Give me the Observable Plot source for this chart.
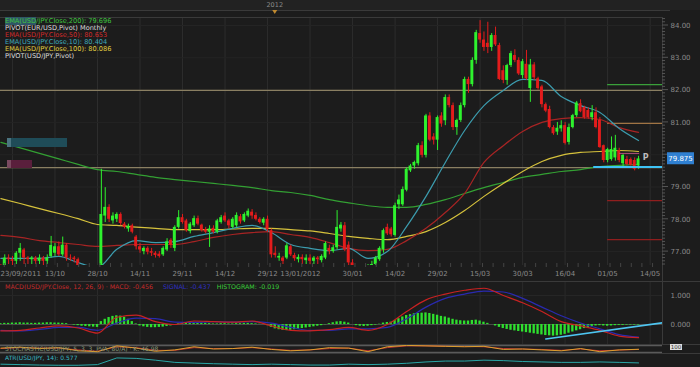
<!DOCTYPE html>
<html><head><meta charset="utf-8">
<script src="https://cdn.jsdelivr.net/npm/d3@7"></script>
<script src="https://cdn.jsdelivr.net/npm/@observablehq/plot@0.6"></script>
<style>
html,body{margin:0;padding:0;background:#1c1c1c;overflow:hidden}
#wrap{position:relative;width:700px;height:367px;background:#1c1c1c;font-family:"DejaVu Sans",sans-serif;overflow:hidden}
.lg{position:absolute;white-space:nowrap;font-size:6.6px;line-height:7px;font-family:"DejaVu Sans",sans-serif}
</style></head><body><div id="wrap"></div>
<script>
// ---------- DATA ----------
const firstIndex = -25; // trading-day index of the first candle (0 = 28/10/2011)
const open = [
 76.5,76.4,76.8,76.75,76.7,76.95,77.05,76.8,76.75,76.8,
 76.7,76.8,76.7,76.85,76.95,77.15,76.9,77.2,76.8,76.8,
 76.75,76.2,76.1,76.0,76.2,75.8,75.8,78.1,78.37,77.95,
 78.0,78.15,77.85,77.7,77.8,77.45,77.15,77.0,77.1,77.0,
 76.95,76.92,76.9,77.05,77.35,77.1,77.75,78.05,77.95,77.62,
 77.8,78.02,77.82,77.68,77.6,77.72,77.6,77.9,78.1,77.95,
 77.75,77.8,78.08,77.95,78.1,78.22,78.12,78.0,77.88,78.0,
 77.65,76.95,76.8,76.8,76.8,77.15,76.88,76.75,76.82,76.72,
 76.8,76.7,76.8,76.72,76.8,77.1,77.0,77.12,77.7,77.8,
 77.2,76.65,76.3,76.2,76.15,76.2,76.5,76.6,76.75,77.05,
 77.75,77.7,77.5,78.45,78.45,78.9,79.5,79.65,79.72,80.28,
 79.98,81.2,80.55,80.45,81.2,81.05,81.77,81.52,80.84,81.06,
 81.52,82.33,82.17,82.92,83.75,83.55,83.45,83.32,83.69,83.38,
 82.6,82.3,82.76,83.07,82.92,82.45,82.8,82.05,82.78,82.35,
 82.1,81.55,81.4,80.84,80.7,80.8,80.9,80.38,80.84,81.21,
 81.58,81.46,81.37,81.15,81.3,81.06,80.28,79.82,79.85,79.9,
 80.13,79.72,79.85,79.85,79.82,79.65];
const high = [
 76.6,76.9,76.9,76.85,77.0,77.25,77.1,76.85,76.85,76.85,
 76.9,76.85,76.9,77.47,77.25,77.3,77.45,77.25,76.9,76.85,
 76.8,76.4,76.3,76.3,76.3,76.0,79.55,78.98,78.45,78.2,
 78.2,78.2,77.9,77.85,77.85,77.5,77.25,77.15,77.15,77.1,
 77.0,77.0,77.15,77.4,77.4,77.8,78.27,78.15,78.0,77.9,
 78.1,78.1,77.85,77.75,77.8,77.8,78.0,78.12,78.2,78.0,
 78.05,78.2,78.15,78.2,78.32,78.3,78.2,78.05,78.05,78.1,
 77.7,77.15,76.95,76.85,77.25,77.2,76.95,76.9,76.9,76.9,
 76.9,76.85,76.85,76.9,77.3,77.2,77.2,78.27,77.9,77.9,
 77.3,76.75,76.4,76.3,76.3,76.6,76.7,76.85,77.15,77.7,
 77.85,77.75,78.5,78.75,79.0,79.6,79.7,79.8,80.35,80.4,
 81.25,81.3,80.65,81.2,81.3,81.85,81.85,81.6,81.1,81.6,
 82.4,82.4,83.0,83.85,84.15,83.8,84.1,83.75,83.95,83.45,
 82.75,82.8,83.2,83.25,83.0,82.95,83.23,82.95,82.85,82.4,
 82.15,81.6,81.5,80.9,81.0,81.05,81.0,80.95,81.25,81.65,
 81.7,81.5,81.45,81.52,81.45,81.15,80.3,80.2,80.55,80.6,
 80.2,80.0,79.95,79.9,79.9,79.95];
const low = [
 76.1,76.3,76.6,76.5,76.6,76.7,76.6,76.6,76.6,76.6,
 76.6,76.55,76.6,76.8,76.85,76.85,76.85,76.7,76.7,76.65,
 76.1,75.9,75.9,75.9,75.7,75.6,75.6,77.9,77.9,77.85,
 77.9,77.8,77.7,77.6,77.55,77.05,76.95,76.9,76.9,76.85,
 76.8,76.8,76.85,77.0,77.1,77.0,77.7,77.85,77.6,77.55,
 77.75,77.8,77.6,77.55,77.13,77.55,77.55,77.85,77.9,77.7,
 77.7,77.75,77.85,77.9,78.05,78.0,77.95,77.85,77.8,77.6,
 76.8,76.8,76.7,76.6,76.75,76.85,76.7,76.65,76.6,76.6,
 76.6,76.6,76.6,76.65,76.75,76.9,76.95,77.05,77.6,77.0,
 76.5,76.2,76.0,75.95,76.1,76.1,76.4,76.5,76.7,76.95,
 77.5,77.45,77.45,78.3,78.4,78.85,79.45,79.55,79.65,79.9,
 79.9,80.4,80.3,80.13,80.85,80.9,81.45,80.75,80.6,81.0,
 81.45,81.9,82.1,82.8,83.45,83.2,83.13,83.2,83.35,82.3,
 82.2,82.15,82.7,82.85,82.45,82.35,82.3,81.62,82.3,82.0,
 81.45,81.3,80.8,80.6,80.6,80.7,80.3,80.3,80.8,81.15,
 81.3,81.1,81.1,81.05,80.8,80.2,79.75,79.75,79.8,79.8,
 79.75,79.6,79.65,79.65,79.5,79.55];
const close = [
 76.4,76.8,76.75,76.7,76.95,77.1,76.8,76.75,76.8,76.7,
 76.8,76.7,76.8,77.19,77.15,76.9,77.2,76.8,76.78,76.75,
 76.2,76.1,76.0,76.2,75.8,75.8,78.15,78.37,78.0,78.1,
 78.15,77.87,77.75,77.78,77.6,77.15,77.05,77.1,76.98,76.95,
 76.88,76.85,77.1,77.3,77.2,77.75,78.05,77.9,77.65,77.85,
 78.02,77.85,77.65,77.6,77.7,77.6,77.95,78.05,77.95,77.8,
 78.0,78.12,77.92,78.15,78.25,78.1,78.0,77.9,78.0,77.68,
 76.9,76.88,76.85,76.7,77.18,76.9,76.78,76.82,76.75,76.8,
 76.7,76.8,76.75,76.85,77.25,77.0,77.12,77.75,77.82,77.05,
 76.65,76.3,76.2,76.15,76.2,76.55,76.6,76.8,77.1,77.65,
 77.55,77.52,78.42,78.6,78.92,79.55,79.65,79.76,80.28,79.98,
 81.2,80.45,80.45,81.15,80.95,81.77,81.52,80.84,81.06,81.52,
 82.33,82.17,82.92,83.78,83.55,83.32,83.32,83.69,83.4,82.33,
 82.3,82.76,83.13,82.92,82.5,82.88,82.35,82.78,82.38,82.05,
 81.55,81.35,80.84,80.65,80.82,80.9,80.35,80.84,81.21,81.6,
 81.33,81.15,81.15,81.3,80.84,80.22,79.82,80.16,80.16,80.2,
 79.82,79.98,79.7,79.67,79.55,79.87];

// indicator lines, read every 5 trading days
const sampleIdx = [-25,-20,-15,-10,-5,0,5,10,15,20,25,30,35,40,45,50,55,60,65,70,75,80,85,90,95,100,105,110,115,120,125,130,135,140];
const ema200 = [80.38,80.21,80.04,79.87,79.70,79.54,79.48,79.39,79.30,79.23,79.17,79.11,79.05,78.98,78.89,78.83,78.74,78.61,78.51,78.42,78.37,78.37,78.46,78.61,78.80,78.98,79.14,79.30,79.39,79.48,79.54,79.63,79.67,79.70];
const ema100 = [78.64,78.49,78.33,78.18,78.02,77.84,77.81,77.76,77.72,77.68,77.68,77.68,77.70,77.72,77.72,77.68,77.64,77.56,77.47,77.41,77.37,77.47,77.62,77.90,78.27,78.71,79.11,79.48,79.79,79.98,80.07,80.10,80.13,80.10];
const ema50  = [77.50,77.44,77.34,77.28,77.22,77.16,77.19,77.22,77.22,77.22,77.31,77.44,77.53,77.59,77.62,77.53,77.44,77.28,77.10,77.03,77.07,77.34,77.72,78.21,78.80,79.76,80.28,80.72,81.00,81.12,81.15,81.09,80.84,80.69];
const ema10  = [76.79,76.79,76.79,76.85,76.66,76.51,77.07,77.34,77.28,77.31,77.47,77.59,77.72,77.81,77.59,77.22,77.10,77.03,77.10,76.79,77.00,77.78,78.71,79.76,80.75,81.52,81.99,82.33,82.30,81.80,81.52,81.31,80.81,80.44];

const gridIdx = [-22,-11,0,11,22,33,44,55,66,77,88,99,110,121,132,143];
const xLabelIdx = [-25.1,-11,0,11,22,33,44,52.5,66,77,88,99,110,121,132,143];
const xLabels = ["23/09/2011","13/10","28/10","14/11","29/11","14/12","29/12","13/01/2012","30/01","14/02","29/02","15/03","30/03","16/04","01/05","14/05"];
const priceTicks = [77,78,79,80,81,82,83,84];
const priceLabelTicks = [77,78,79,81,82,83,84]; // 80.00 sits under the last-price tag
const refLevels = [81.99, 79.60];
const pivotLevels = [82.17, 80.97, 78.58, 77.37];
const pivotColors = ["#3aa03a","#a07444","#901e1e","#901e1e"];
const pivotStartIdx = 132;
const pLevel = 80.04, pIdx = [135.1, 140.3];
const supportLevel = 79.62, supportIdx = [128.4, 146.2];
const lastPrice = 79.875;
const yearIdx = 46, yearLabel = "2012";

const macd   = [-0.22,-0.2,-0.12,-0.05,-0.12,-0.3,0.25,0.32,0.1,0.0,0.12,0.1,0.08,0.12,-0.05,-0.2,-0.22,-0.18,-0.1,-0.2,0.0,0.45,0.85,1.05,1.18,1.25,1.0,0.75,0.45,0.1,-0.05,-0.2,-0.4,-0.456];
const signal = [-0.2,-0.22,-0.17,-0.1,-0.1,-0.2,0.05,0.22,0.2,0.08,0.07,0.1,0.08,0.1,0.05,-0.1,-0.2,-0.2,-0.15,-0.15,-0.1,0.2,0.6,0.9,1.05,1.15,1.12,0.9,0.6,0.3,0.05,-0.15,-0.35,-0.437];
const hist = [
 0.03,0.04,0.04,0.05,0.05,0.06,0.05,0.05,0.04,
 0.04,0.05,0.05,0.06,0.06,0.05,0.05,0.04,0.03,
 0.0,-0.02,-0.04,-0.06,-0.07,-0.08,-0.09,-0.1,
 0.1,0.18,0.24,0.28,0.3,0.29,0.25,0.18,0.1,
 0.02,-0.05,-0.08,-0.1,-0.11,-0.11,-0.1,-0.09,-0.07,-0.05,-0.03,
 0.02,0.05,0.06,0.07,0.07,0.06,0.05,0.04,0.03,
 0.02,0.02,0.03,0.03,0.02,0.02,0.03,0.03,0.04,0.04,0.03,0.02,0.01,0.0,
 -0.04,-0.1,-0.15,-0.18,-0.2,-0.21,-0.2,-0.18,-0.16,
 -0.14,-0.12,-0.1,-0.08,-0.06,-0.04,-0.01,
 0.03,0.06,0.09,0.1,0.08,0.05,
 0.0,-0.04,-0.06,-0.07,-0.06,-0.04,-0.02,0.01,0.05,0.07,0.08,
 0.14,0.2,0.26,0.31,0.34,0.37,0.38,0.39,0.4,0.38,0.35,0.32,0.28,0.26,0.22,0.18,0.15,0.13,0.12,0.12,0.14,0.15,
 0.12,0.08,0.04,0.0,-0.05,-0.1,-0.14,-0.17,-0.2,-0.22,-0.24,-0.26,
 -0.28,-0.3,-0.32,-0.34,-0.36,-0.38,-0.39,-0.4,-0.39,-0.37,-0.34,-0.3,-0.26,-0.22,-0.18,-0.14,-0.1,-0.07,
 -0.05,-0.04,-0.05,-0.06,-0.05,-0.04,-0.03,-0.03,-0.02,-0.02,-0.02,-0.019];
const macdTicks = [0, 1];
const trendIdx = [116, 146.2], trendVal = [-0.5, 0.06];

const stochK = [60,70,55,65,30,20,85,60,25,40,75,50,55,70,45,30,40,65,60,20,75,90,85,80,75,80,45,50,40,30,55,20,40,47];
const stochD = [55,65,60,60,40,25,75,65,35,35,65,55,55,65,50,35,40,55,60,30,65,85,85,80,78,75,55,50,45,35,50,30,38,45];
const atr = [0.52,0.5,0.48,0.47,0.47,0.5,0.8,0.78,0.7,0.6,0.57,0.54,0.52,0.5,0.52,0.5,0.48,0.48,0.52,0.5,0.52,0.56,0.62,0.66,0.66,0.7,0.68,0.64,0.62,0.6,0.6,0.62,0.6,0.577];

// ---------- LAYOUT HELPERS ----------
const W = 700, MR = 38, PW = W - MR;
const xDomain = [-25.1, 146.2];
const yDomain = [76.570, 84.248];
const wrap = document.getElementById("wrap");
function place(el, top){ el.style.position="absolute"; el.style.left="0px"; el.style.top=top+"px"; wrap.appendChild(el); return el; }
const baseStyle = {background:"transparent", overflow:"visible", fontFamily:"DejaVu Sans, sans-serif"};
const candles = open.map((o,k)=>({i:firstIndex+k, o, h:high[k], l:low[k], c:close[k]}));
const candleColor = d => d.c >= d.o ? "#2ef22e" : "#e31c1c";
const ser = vals => sampleIdx.map((i,k)=>({i, v:vals[k]}));
const xLabelData = xLabelIdx.map((v,k)=>({v, t:xLabels[k], a: k===0 ? "start" : "middle"}));

// ---------- MAIN PRICE PANEL ----------
const main = Plot.plot({
  width: W, height: 283, marginTop: 17, marginBottom: 18, marginLeft: 0, marginRight: MR,
  style: baseStyle,
  color: {type: "identity"},
  x: {domain: xDomain, axis: null},
  y: {domain: yDomain, axis: null},
  marks: [
    Plot.ruleX(gridIdx, {stroke: "#2d2d2d"}),
    Plot.ruleY(priceTicks, {stroke: "#242424"}),
    Plot.ruleY(refLevels, {stroke: "#8a7f62", strokeWidth: 1.3}),
    Plot.ruleY(pivotLevels.map((v,k)=>({v, c:pivotColors[k]})), {y:"v", x1: () => pivotStartIdx, x2: () => xDomain[1], stroke:"c", strokeWidth: 1.3}),
    Plot.line(ser(ema200), {x:"i", y:"v", stroke:"#33a033", strokeWidth:1.2, curve:"monotone-x", clip:true}),
    Plot.line(ser(ema100), {x:"i", y:"v", stroke:"#d6c23c", strokeWidth:1.2, curve:"monotone-x", clip:true}),
    Plot.line(ser(ema50),  {x:"i", y:"v", stroke:"#a82424", strokeWidth:1.2, curve:"monotone-x", clip:true}),
    Plot.line(ser(ema10),  {x:"i", y:"v", stroke:"#3c9cae", strokeWidth:1.2, curve:"monotone-x", clip:true}),
    Plot.ruleX(candles, {x:"i", y1:"l", y2:"h", stroke: candleColor, clip:true}),
    Plot.rect(candles, {x1: d=>d.i-0.38, x2: d=>d.i+0.38, y1:"o", y2:"c", fill: candleColor, clip:true}),
    Plot.ruleY([supportLevel], {x1: () => supportIdx[0], x2: () => supportIdx[1], stroke:"#3ec3f5", strokeWidth:2}),
    Plot.ruleY([pLevel], {x1: () => pIdx[0], x2: () => pIdx[1], stroke:"#b0507a", strokeWidth:1}),
    Plot.text(["P"], {x: () => pIdx[1], y: () => pLevel, dx: 6, dy: 4, fill:"#bbbbbb", fontSize: 8, fontWeight:"bold", textAnchor:"middle"}),
    Plot.text(priceLabelTicks, {x: () => xDomain[1], y: d=>d, text: d=>d.toFixed(2), dx: 8, textAnchor:"start", fill:"#8a8a8a", fontSize: 7}),
    Plot.text(xLabelData.filter(d=>d.a==="start"), {x:"v", text:"t", frameAnchor:"bottom", dy: 10, textAnchor:"start", fill:"#8a8a8a", fontSize: 7}),
    Plot.text(xLabelData.filter(d=>d.a==="middle"), {x:"v", text:"t", frameAnchor:"bottom", dy: 10, fill:"#8a8a8a", fontSize: 7})
  ]
});
place(main, 0);
{
  const X = d3.scaleLinear(xDomain, [0, PW]);
  const Y = d3.scaleLinear(yDomain, [265, 17]);
  const s = d3.select(main);
  s.insert("rect", ":first-child").attr("x",0).attr("y",0).attr("width",W).attr("height",10).attr("fill","#222");
  s.append("line").attr("x1",0).attr("x2",PW+8).attr("y1",10.5).attr("y2",10.5).attr("stroke","#3a3a3a");
  s.append("line").attr("x1",0).attr("x2",PW).attr("y1",17.5).attr("y2",17.5).attr("stroke","#3a3a3a");
  s.append("line").attr("x1",PW+0.5).attr("x2",PW+0.5).attr("y1",17).attr("y2",283).attr("stroke","#3a3a3a");
  s.append("text").attr("x",X(yearIdx)).attr("y",7).attr("text-anchor","middle").attr("fill","#8a8a8a").attr("font-size",6.5).text(yearLabel);
  const tx = X(yearIdx);
  s.append("path").attr("d",`M${tx-2.5},10L${tx+2.5},10L${tx},14Z`).attr("fill","#c08a30");
  const minor = d3.range(76.6, 84.25, 0.1);
  s.append("g").selectAll("line").data(minor).join("line")
    .attr("x1",PW).attr("x2",d=>PW+ (Math.abs(d-Math.round(d))<0.01?6:3)).attr("y1",d=>Y(d)).attr("y2",d=>Y(d)).attr("stroke","#555");
  s.append("g").selectAll("line").data(d3.range(-24, 146, 2.75)).join("line")
    .attr("x1",d=>X(d)).attr("x2",d=>X(d)).attr("y1",263).attr("y2",267).attr("stroke","#444");
  const ly = Y(lastPrice);
  s.append("rect").attr("x",PW+5).attr("y",ly-6).attr("width",27).attr("height",12).attr("fill","#2f80d2");
  s.append("text").attr("x",PW+18.5).attr("y",ly+2.5).attr("text-anchor","middle").attr("fill","#fff").attr("font-size",7).text(lastPrice.toFixed(3));
  s.append("rect").attr("x",7).attr("y",138).attr("width",60).attr("height",9).attr("fill","#1f4c58");
  s.append("rect").attr("x",7).attr("y",138).attr("width",4).attr("height",9).attr("fill","#4b7480");
  s.append("rect").attr("x",7).attr("y",160).attr("width",25).attr("height",8).attr("fill","#5a1f3c");
  s.append("rect").attr("x",7).attr("y",160).attr("width",4).attr("height",8).attr("fill","#7a4a60");
}

// legend (top-left)
const legendItems = [
  ["EMA(USD/JPY.Close,200): 79.696", "#3fc43f"],
  ["PIVOT(EUR/USD,Pivot) Monthly", "#dddddd"],
  ["EMA(USD/JPY.Close,50): 80.653", "#d02a2a"],
  ["EMA(USD/JPY.Close,10): 80.404", "#3fa9ba"],
  ["EMA(USD/JPY.Close,100): 80.086", "#e2d040"],
  ["PIVOT(USD/JPY,Pivot)", "#dddddd"]
];
legendItems.forEach(([t,c],k)=>{
  const d = document.createElement("div"); d.className="lg"; d.style.left="5px"; d.style.top=(18+k*7)+"px"; d.style.color=c;
  if(k===0){ d.innerHTML = '<span style="background:#2f5666">'+t.slice(0,7)+'</span>'+t.slice(7); } else d.textContent=t;
  wrap.appendChild(d);
});

// ---------- MACD PANEL ----------
const macdTop = 281, macdH = 63;
const macdDomain = [-(macdTop+macdH-324)/29, (324-macdTop)/29];
const macdPlot = Plot.plot({
  width: W, height: macdH, marginTop: 0, marginBottom: 0, marginLeft: 0, marginRight: MR,
  style: baseStyle, color:{type:"identity"},
  x: {domain: xDomain, axis: null},
  y: {domain: macdDomain, axis: null},
  marks: [
    Plot.ruleX(gridIdx, {stroke: "#2a2a2a"}),
    Plot.ruleY([1], {stroke:"#262626"}),
    Plot.ruleY([0], {stroke:"#4a4a4a"}),
    Plot.rect(hist.map((v,k)=>({i:firstIndex+k, v})), {x1:d=>d.i-0.3, x2:d=>d.i+0.3, y1:()=>0, y2:"v", fill:"#2ee02e", clip:true}),
    Plot.line(ser(signal), {x:"i", y:"v", stroke:"#2a2ab0", strokeWidth:1.2, curve:"monotone-x", clip:true}),
    Plot.line(ser(macd), {x:"i", y:"v", stroke:"#c82222", strokeWidth:1.2, curve:"monotone-x", clip:true}),
    Plot.line(trendIdx.map((i,k)=>({i, v:trendVal[k]})), {x:"i", y:"v", stroke:"#4ec6f2", strokeWidth:1.6, clip:true}),
    Plot.text(macdTicks, {x: () => xDomain[1], y: d=>d, text: d=>d.toFixed(3), dx: 8, textAnchor:"start", fill:"#8a8a8a", fontSize: 7})
  ]
});
place(macdPlot, macdTop);
{
  const s = d3.select(macdPlot);
  s.append("line").attr("x1",0).attr("x2",W).attr("y1",0.5).attr("y2",0.5).attr("stroke","#3a3a3a");
  s.append("line").attr("x1",PW+0.5).attr("x2",PW+0.5).attr("y1",0).attr("y2",macdH).attr("stroke","#3a3a3a");
  const t = s.append("text").attr("x",5).attr("y",8).attr("font-size",6.3).attr("text-anchor","start");
  t.append("tspan").attr("fill","#c42a2a").text("MACD(USD/JPY.Close, 12, 26, 9) · MACD: -0.456");
  t.append("tspan").attr("fill","#2e2ec0").attr("dx",10).text("SIGNAL: -0.437");
  t.append("tspan").attr("fill","#3ad03a").attr("dx",6).text("HISTOGRAM: -0.019");
}

// ---------- STOCHASTIC PANEL ----------
const stochTop = 344, stochH = 9;
const stochPlot = Plot.plot({
  width: W, height: stochH, marginTop: 0, marginBottom: 0, marginLeft: 0, marginRight: MR,
  style: baseStyle, color:{type:"identity"},
  x: {domain: xDomain, axis: null},
  y: {domain: [0, 100], axis: null},
  marks: [
    Plot.ruleY([90, 10], {stroke:"#5a5a5a", strokeWidth:1.5}),
    Plot.line(ser(stochD), {x:"i", y:"v", stroke:"#c03030", strokeWidth:1, clip:true}),
    Plot.line(ser(stochK), {x:"i", y:"v", stroke:"#d9a030", strokeWidth:1, clip:true})
  ]
});
place(stochPlot, stochTop);
{
  const s = d3.select(stochPlot);
  s.append("line").attr("x1",0).attr("x2",W).attr("y1",0.5).attr("y2",0.5).attr("stroke","#3a3a3a");
  s.append("text").attr("x",5).attr("y",6.5).attr("font-size",6).attr("text-anchor","start").attr("fill","#8a9a7a").text("STOCHASTIC(USD/JPY, 5, 3, 3, PVA, 80/A) · K: 46.98");
  s.append("rect").attr("x",PW+8).attr("y",0).attr("width",12).attr("height",6).attr("fill","#ddd");
  s.append("text").attr("x",PW+14).attr("y",5).attr("text-anchor","middle").attr("font-size",5.5).attr("fill","#333").text("100");
}

// ---------- ATR PANEL ----------
const atrTop = 353, atrH = 14;
const atrPlot = Plot.plot({
  width: W, height: atrH, marginTop: 0, marginBottom: 0, marginLeft: 0, marginRight: MR,
  style: baseStyle, color:{type:"identity"},
  x: {domain: xDomain, axis: null},
  y: {domain: [0.37, 1.0], axis: null},
  marks: [
    Plot.line(ser(atr), {x:"i", y:"v", stroke:"#2aa6a6", strokeWidth:1, clip:true})
  ]
});
place(atrPlot, atrTop);
{
  const s = d3.select(atrPlot);
  s.append("line").attr("x1",0).attr("x2",W).attr("y1",0.5).attr("y2",0.5).attr("stroke","#3a3a3a");
  s.append("text").attr("x",5).attr("y",7).attr("font-size",6).attr("text-anchor","start").attr("fill","#3ab8c6").text("ATR(USD/JPY, 14): 0.577");
}
</script></body></html>
